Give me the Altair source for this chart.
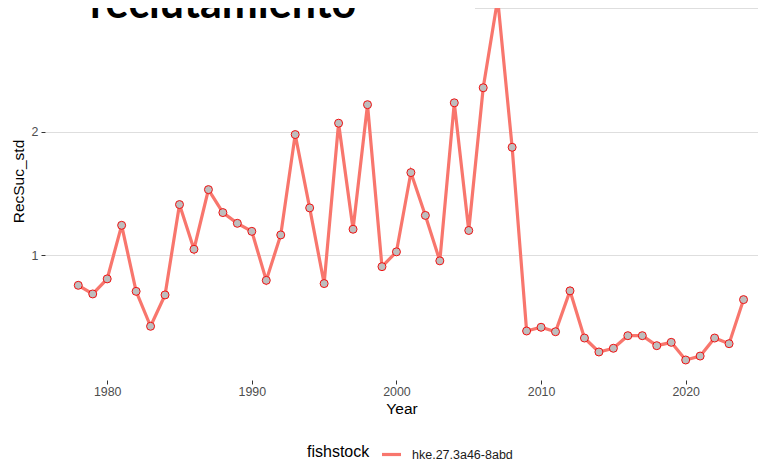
import altair as alt
import pandas as pd

years = list(range(1978, 2025))
rec_suc_std = [
    0.757, 0.687, 0.809, 1.243, 0.708, 0.425, 0.679, 1.411, 1.049, 1.532,
    1.346, 1.259, 1.194, 0.797, 1.165, 1.978, 1.384, 0.771, 2.070, 1.211,
    2.220, 0.908, 1.028, 1.670, 1.323, 0.955, 2.235, 1.201, 2.357, 3.075,
    1.875, 0.387, 0.417, 0.381, 0.712, 0.330, 0.217, 0.247, 0.349, 0.349,
    0.268, 0.295, 0.152, 0.184, 0.330, 0.284, 0.641,
]
stock_name = "hke.27.3a46-8abd"
x_ticks = [1980, 1990, 2000, 2010, 2020]
y_ticks = [1, 2, 3]
title_text = ["reclutamiento"]

df = pd.DataFrame({
    "Year": years,
    "RecSuc_std": rec_suc_std,
    "fishstock": [stock_name] * len(years),
})
title_df = pd.DataFrame({"label": title_text})
mask_df = pd.DataFrame({"k": [0]})

FONT = "Liberation Sans"

x_enc = alt.X(
    "Year:Q",
    scale=alt.Scale(domain=[1975.7, 2025.0], nice=False, zero=False),
    axis=alt.Axis(
        values=x_ticks, format="d", title="Year", grid=False, domain=False,
        tickSize=4, tickColor="#333333", labelColor="#4D4D4D", labelFontSize=12.4,
        labelFont=FONT, labelPadding=1, titleFont=FONT, titleFontSize=15.5,
        titleFontWeight="normal", titleColor="#000000", titlePadding=4,
    ),
)
y_enc = alt.Y(
    "RecSuc_std:Q",
    scale=alt.Scale(domain=[-0.01, 3.003], nice=False, zero=False),
    axis=alt.Axis(
        values=y_ticks, format="d", title="RecSuc_std", grid=True,
        labelExpr="datum.value >= 3 ? '' : datum.label",
        gridColor="#DEDEDE", gridWidth=1, domain=False, tickSize=4,
        tickColor="#333333", labelColor="#4D4D4D", labelFontSize=12.4,
        labelFont=FONT, labelPadding=3, titleFont=FONT, titleFontSize=15.5,
        titleFontWeight="normal", titleColor="#000000", titleAngle=270,
        titleX=-21.5, titleY=173, titleAlign="center", titleBaseline="alphabetic",
    ),
)

line = alt.Chart(df).mark_line(strokeWidth=3.2, clip=False).encode(
    x=x_enc,
    y=y_enc,
    color=alt.Color(
        "fishstock:N",
        scale=alt.Scale(range=["#F8766D"]),
        legend=alt.Legend(
            orient="none", legendX=262, legendY=435, direction="horizontal",
            titleOrient="left", title="fishstock", titleFont=FONT,
            titleFontSize=16, titleFontWeight="normal", titleColor="#000000",
            titlePadding=10, labelFont=FONT, labelFontSize=12.5,
            labelColor="#1A1A1A", labelOffset=9, symbolType="stroke",
            symbolStrokeWidth=3.2, symbolSize=361,
        ),
    ),
)

points = alt.Chart(df).mark_circle(
    size=64, fill="#BEBEBE", fillOpacity=1, stroke="#F01010", strokeWidth=1,
    opacity=1, clip=False,
).encode(x="Year:Q", y="RecSuc_std:Q")

mask = alt.Chart(mask_df).mark_rect(color="white", strokeWidth=0).encode(
    x=alt.value(-40), x2=alt.value(430), y=alt.value(-8), y2=alt.value(8)
)

title = alt.Chart(title_df).mark_text(
    font="Lato", fontSize=43, fontWeight="bold", color="#000000",
    align="left", baseline="alphabetic",
).encode(text="label:N", x=alt.value(45), y=alt.value(9.5))

chart = alt.layer(line, points, mask, title).properties(
    width=713, height=372,
    padding={"left": 37, "top": 0, "right": 0, "bottom": 80},
    autosize=alt.AutoSizeParams(type="none"),
).configure(background="white").configure_view(strokeWidth=0, stroke=None)

chart.save("out.html", embed_options={"renderer": "svg", "actions": False})
